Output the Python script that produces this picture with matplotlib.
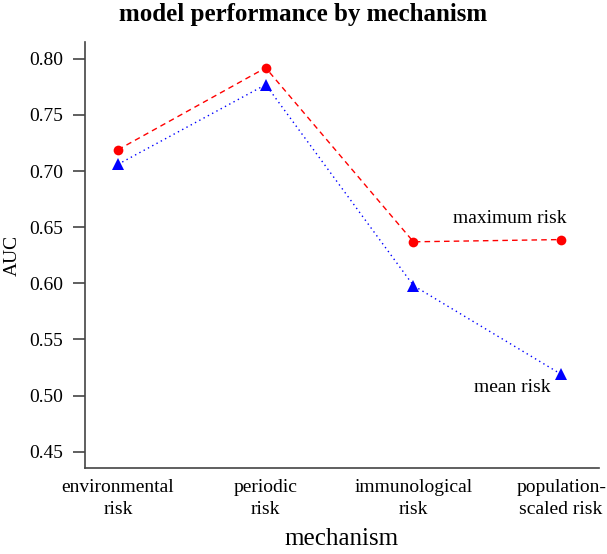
import matplotlib
matplotlib.use('Agg')
import matplotlib.pyplot as plt

mechanisms = ['environmental\nrisk', 'periodic\nrisk',
              'immunological\nrisk', 'population-\nscaled risk']
auc_max  = [0.719, 0.792, 0.637, 0.639]
auc_mean = [0.706, 0.777, 0.598, 0.519]
yticks = [0.45, 0.50, 0.55, 0.60, 0.65, 0.70, 0.75, 0.80]

plt.rcParams['font.family'] = ['Liberation Serif', 'DejaVu Serif']

fig = plt.figure(figsize=(6.07, 5.54), dpi=100)
ax = fig.add_axes([85/607, 1 - 468/554, (599-85)/607, (468-42)/554])

x = list(range(len(mechanisms)))
ax.plot(x, auc_max, color='red', linestyle=(0, (4, 3)), linewidth=1,
        marker='o', markersize=7, markeredgewidth=0)
ax.plot(x, auc_mean, color='blue', linestyle=(0, (1, 2.5)), linewidth=1,
        marker='^', markersize=8, markeredgewidth=0)

ax.set_xlim(-0.223, 3.256)
ax.set_ylim(0.4355, 0.815)
ax.set_yticks(yticks)
ax.set_yticklabels([f'{v:.2f}' for v in yticks])
ax.set_xticks(x)
ax.set_xticklabels(mechanisms, fontsize=14, linespacing=1.4)
ax.tick_params(axis='x', length=0, pad=8)
ax.tick_params(axis='y', length=9, width=1.2, pad=7, labelsize=14,
               color='#444444')
for s in ['top', 'right']:
    ax.spines[s].set_visible(False)
for s in ['left', 'bottom']:
    ax.spines[s].set_color('#444444')
    ax.spines[s].set_linewidth(1.2)

ax.text(3.04, 0.658, 'maximum risk', ha='right', va='center', fontsize=14)
ax.text(2.93, 0.507, 'mean risk', ha='right', va='center', fontsize=14)

ax.set_ylabel('AUC', fontsize=14, labelpad=6)
ax.set_xlabel('mechanism', fontsize=18, labelpad=7)
fig.text(0.5, 1 - 15/554, 'model performance by mechanism',
         ha='center', va='center', fontsize=18, fontweight='bold')

fig.savefig('out.png', dpi=100)
